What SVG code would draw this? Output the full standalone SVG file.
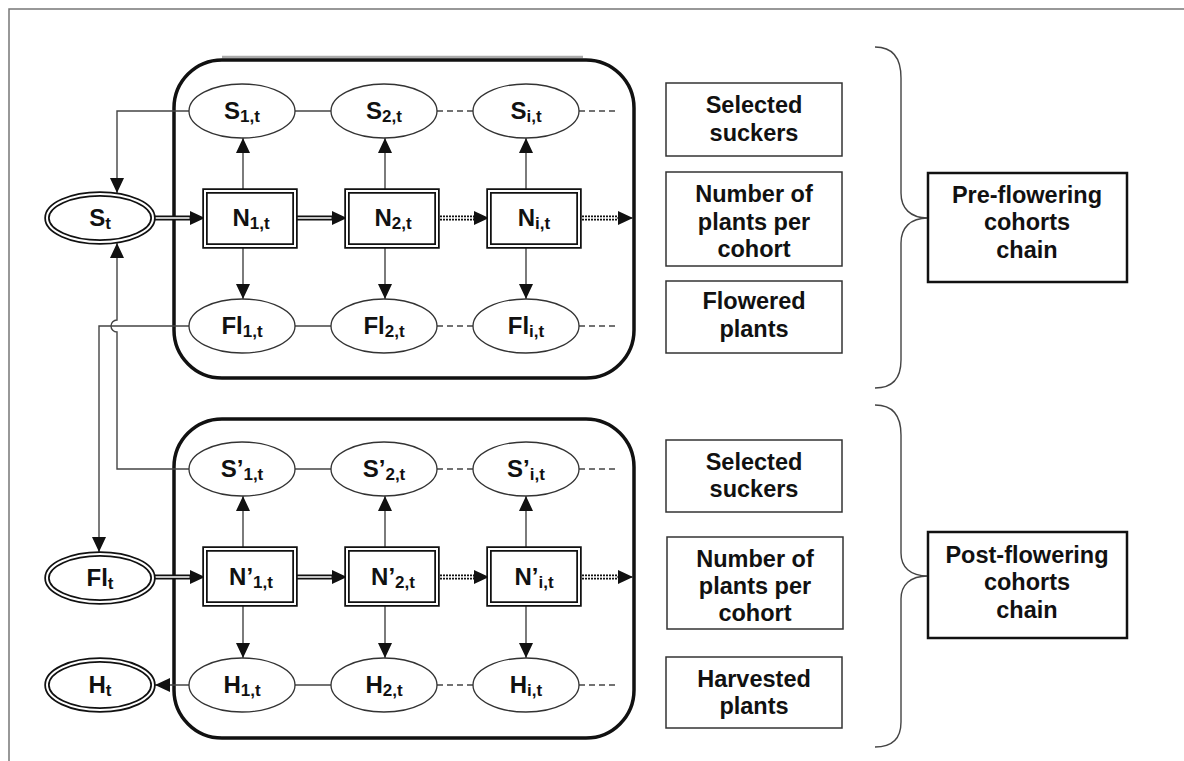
<svg xmlns="http://www.w3.org/2000/svg" width="1184" height="761" viewBox="0 0 1184 761">
<defs>
<marker id="ah" markerUnits="userSpaceOnUse" markerWidth="15" markerHeight="14" refX="15" refY="7" orient="auto"><path d="M0,0 L15,7 L0,14 z" fill="#111"/></marker>
<style>
text{font-family:"Liberation Sans",Arial,sans-serif;font-weight:bold;fill:#111;text-anchor:middle}
.nt{font-size:24px}
.sub{font-size:17px}
.lb{font-size:23.5px}
.el{fill:#fff;stroke:#333;stroke-width:1.3}
.dbo{fill:none;stroke:#111;stroke-width:5.5}
.dbi{fill:none;stroke:#fff;stroke-width:2}
.ln{fill:none;stroke:#444;stroke-width:1.3}
.ds{fill:none;stroke:#444;stroke-width:1.3;stroke-dasharray:6 4}
.ar{fill:none;stroke:#444;stroke-width:1.4;marker-end:url(#ah)}
.dlo{fill:none;stroke:#111;stroke-width:5}
.dli{fill:none;stroke:#fff;stroke-width:1.6}
.dot{stroke-dasharray:2 1}
.grp{fill:none;stroke:#111;stroke-width:3.5}
.lbox{fill:#fff;stroke:#333;stroke-width:1.5}
.bbox{fill:#fff;stroke:#111;stroke-width:2.5}
.br{fill:none;stroke:#444;stroke-width:1.4}
</style>
</defs>
<rect width="1184" height="761" fill="#fff"/>
<path d="M9,761 V9 H1184" fill="none" stroke="#777" stroke-width="1.5"/>

<g id="chain-boxes">
<line x1="222" y1="57" x2="583" y2="57" stroke="#aaa" stroke-width="2.5"/>
<rect class="grp" x="174" y="60" width="460" height="318" rx="48"/>
<rect class="grp" x="174" y="419" width="460" height="319" rx="48"/>
</g>

<g id="connectors">
<path class="ar" d="M243,191 V138"/>
<path class="ar" d="M385,191 V138"/>
<path class="ar" d="M526,191 V138"/>
<path class="ar" d="M243,246 V299"/>
<path class="ar" d="M385,246 V299"/>
<path class="ar" d="M526,246 V299"/>
<path class="ar" d="M243,549 V496"/>
<path class="ar" d="M385,549 V496"/>
<path class="ar" d="M526,549 V496"/>
<path class="ar" d="M243,604 V658"/>
<path class="ar" d="M385,604 V658"/>
<path class="ar" d="M526,604 V658"/>
<path class="ln" d="M295,111 H331"/><path class="ds" d="M437,111 H473"/><path class="ds" d="M579,111 H618"/>
<path class="ln" d="M295,326 H331"/><path class="ds" d="M437,326 H473"/><path class="ds" d="M579,326 H618"/>
<path class="ln" d="M295,469 H331"/><path class="ds" d="M437,469 H473"/><path class="ds" d="M579,469 H618"/>
<path class="ln" d="M295,685 H331"/><path class="ds" d="M437,685 H473"/><path class="ds" d="M579,685 H618"/>
<path class="dlo" d="M155,218 H191"/><path class="dli" d="M155,218 H191"/><path class="ar" d="M189,218 H205"/>
<path class="dlo" d="M296,218 H333"/><path class="dli" d="M296,218 H333"/><path class="ar" d="M331,218 H347"/>
<path class="dlo dot" d="M437,218 H475"/><path class="dli" d="M437,218 H475"/><path class="ar" d="M473,218 H489"/>
<path class="dlo dot" d="M579,218 H619"/><path class="dli" d="M579,218 H619"/><path class="ar" d="M617,218 H633"/>
<path class="dlo" d="M155,577 H191"/><path class="dli" d="M155,577 H191"/><path class="ar" d="M189,577 H205"/>
<path class="dlo" d="M296,577 H333"/><path class="dli" d="M296,577 H333"/><path class="ar" d="M331,577 H347"/>
<path class="dlo dot" d="M437,577 H475"/><path class="dli" d="M437,577 H475"/><path class="ar" d="M473,577 H489"/>
<path class="dlo dot" d="M579,577 H619"/><path class="dli" d="M579,577 H619"/><path class="ar" d="M617,577 H633"/>
<path class="ar" d="M189,111 H117 V193"/>
<path class="ar" d="M189,469 H117 V332 A6,6 0 0 1 117,320 V243"/>
<path class="ar" d="M189,326 H99 V552"/>
<path class="ar" d="M189,685 H155"/>
<path class="br" d="M875,47 C893,47 901,58 901,78 V193 C901,208 910,218 928,218 C910,218 901,228 901,243 V360 C901,378 893,388 875,388"/>
<path class="br" d="M875,405 C893,405 901,415 901,435 V553 C901,567 910,576 928,576 C910,576 901,585 901,599 V722 C901,738 893,747 875,747"/>
</g>

<g id="S1t"><ellipse class="el" cx="242" cy="111" rx="53" ry="27"/><text class="nt" x="242" y="119">S<tspan class="sub" dy="3">1,t</tspan></text></g>
<g id="S2t"><ellipse class="el" cx="384" cy="111" rx="53" ry="27"/><text class="nt" x="384" y="119">S<tspan class="sub" dy="3">2,t</tspan></text></g>
<g id="Sit"><ellipse class="el" cx="526" cy="111" rx="53" ry="27"/><text class="nt" x="526" y="119">S<tspan class="sub" dy="3">i,t</tspan></text></g>
<g id="N1t"><rect class="dbo" x="205" y="191" width="90" height="55"/><rect class="dbi" x="205" y="191" width="90" height="55"/><text class="nt" x="251" y="226">N<tspan class="sub" dy="3">1,t</tspan></text></g>
<g id="N2t"><rect class="dbo" x="347" y="191" width="90" height="55"/><rect class="dbi" x="347" y="191" width="90" height="55"/><text class="nt" x="393" y="226">N<tspan class="sub" dy="3">2,t</tspan></text></g>
<g id="Nit"><rect class="dbo" x="489" y="191" width="90" height="55"/><rect class="dbi" x="489" y="191" width="90" height="55"/><text class="nt" x="534" y="226">N<tspan class="sub" dy="3">i,t</tspan></text></g>
<g id="Fl1t"><ellipse class="el" cx="242" cy="326" rx="53" ry="27"/><text class="nt" x="242" y="334">Fl<tspan class="sub" dy="3">1,t</tspan></text></g>
<g id="Fl2t"><ellipse class="el" cx="384" cy="326" rx="53" ry="27"/><text class="nt" x="384" y="334">Fl<tspan class="sub" dy="3">2,t</tspan></text></g>
<g id="Flit"><ellipse class="el" cx="526" cy="326" rx="53" ry="27"/><text class="nt" x="526" y="334">Fl<tspan class="sub" dy="3">i,t</tspan></text></g>

<g id="Sp1t"><ellipse class="el" cx="242" cy="469" rx="53" ry="27"/><text class="nt" x="242" y="477">S’<tspan class="sub" dy="3">1,t</tspan></text></g>
<g id="Sp2t"><ellipse class="el" cx="384" cy="469" rx="53" ry="27"/><text class="nt" x="384" y="477">S’<tspan class="sub" dy="3">2,t</tspan></text></g>
<g id="Spit"><ellipse class="el" cx="526" cy="469" rx="53" ry="27"/><text class="nt" x="526" y="477">S’<tspan class="sub" dy="3">i,t</tspan></text></g>
<g id="Np1t"><rect class="dbo" x="205" y="549" width="90" height="55"/><rect class="dbi" x="205" y="549" width="90" height="55"/><text class="nt" x="251" y="585">N’<tspan class="sub" dy="3">1,t</tspan></text></g>
<g id="Np2t"><rect class="dbo" x="347" y="549" width="90" height="55"/><rect class="dbi" x="347" y="549" width="90" height="55"/><text class="nt" x="393" y="585">N’<tspan class="sub" dy="3">2,t</tspan></text></g>
<g id="Npit"><rect class="dbo" x="489" y="549" width="90" height="55"/><rect class="dbi" x="489" y="549" width="90" height="55"/><text class="nt" x="534" y="585">N’<tspan class="sub" dy="3">i,t</tspan></text></g>
<g id="H1t"><ellipse class="el" cx="242" cy="685" rx="53" ry="27"/><text class="nt" x="242" y="693">H<tspan class="sub" dy="3">1,t</tspan></text></g>
<g id="H2t"><ellipse class="el" cx="384" cy="685" rx="53" ry="27"/><text class="nt" x="384" y="693">H<tspan class="sub" dy="3">2,t</tspan></text></g>
<g id="Hit"><ellipse class="el" cx="526" cy="685" rx="53" ry="27"/><text class="nt" x="526" y="693">H<tspan class="sub" dy="3">i,t</tspan></text></g>

<g id="St"><ellipse class="dbo" cx="100" cy="218" rx="53" ry="24"/><ellipse class="dbi" cx="100" cy="218" rx="53" ry="24"/><text class="nt" x="100" y="226">S<tspan class="sub" dy="3">t</tspan></text></g>
<g id="Flt"><ellipse class="dbo" cx="100" cy="578" rx="53" ry="24"/><ellipse class="dbi" cx="100" cy="578" rx="53" ry="24"/><text class="nt" x="100" y="586">Fl<tspan class="sub" dy="3">t</tspan></text></g>
<g id="Ht"><ellipse class="dbo" cx="100" cy="685" rx="53" ry="25"/><ellipse class="dbi" cx="100" cy="685" rx="53" ry="25"/><text class="nt" x="100" y="693">H<tspan class="sub" dy="3">t</tspan></text></g>

<g id="lab-sel1"><rect class="lbox" x="666" y="83" width="176" height="73"/><text class="lb" x="754" y="113">Selected</text><text class="lb" x="754" y="141">suckers</text></g>
<g id="lab-num1"><rect class="lbox" x="666" y="172" width="176" height="94"/><text class="lb" x="754" y="202">Number of</text><text class="lb" x="754" y="230">plants per</text><text class="lb" x="754" y="257">cohort</text></g>
<g id="lab-flo"><rect class="lbox" x="666" y="281" width="176" height="72"/><text class="lb" x="754" y="309">Flowered</text><text class="lb" x="754" y="337">plants</text></g>
<g id="lab-pre"><rect class="bbox" x="928" y="173" width="199" height="109"/><text class="lb" x="1027" y="203">Pre-flowering</text><text class="lb" x="1027" y="230">cohorts</text><text class="lb" x="1027" y="258">chain</text></g>

<g id="lab-sel2"><rect class="lbox" x="666" y="440" width="176" height="72"/><text class="lb" x="754" y="470">Selected</text><text class="lb" x="754" y="497">suckers</text></g>
<g id="lab-num2"><rect class="lbox" x="667" y="537" width="176" height="92"/><text class="lb" x="755" y="567">Number of</text><text class="lb" x="755" y="594">plants per</text><text class="lb" x="755" y="621">cohort</text></g>
<g id="lab-har"><rect class="lbox" x="666" y="657" width="176" height="71"/><text class="lb" x="754" y="687">Harvested</text><text class="lb" x="754" y="714">plants</text></g>
<g id="lab-post"><rect class="bbox" x="928" y="532" width="199" height="106"/><text class="lb" x="1027" y="563">Post-flowering</text><text class="lb" x="1027" y="590">cohorts</text><text class="lb" x="1027" y="618">chain</text></g>
</svg>
